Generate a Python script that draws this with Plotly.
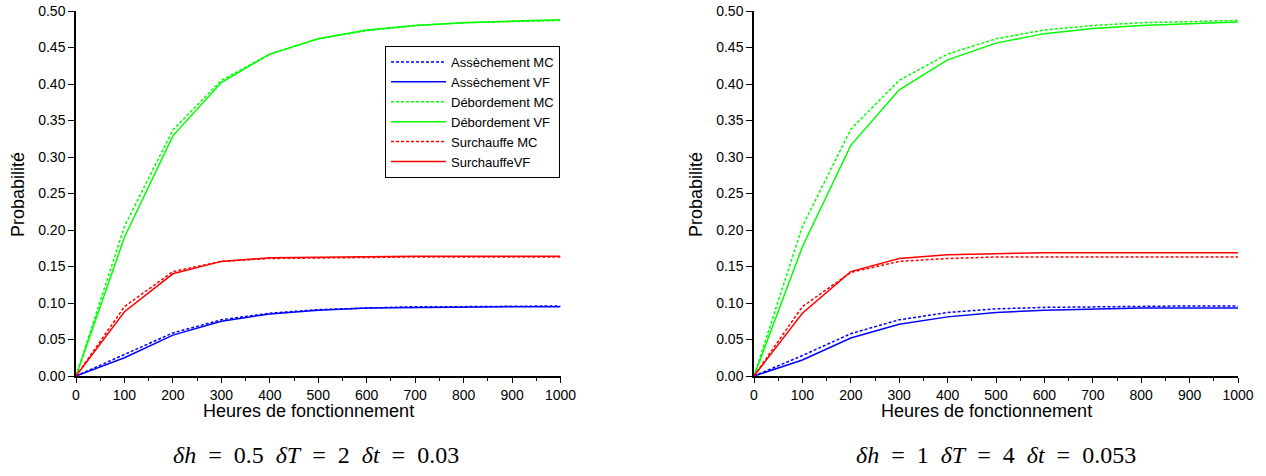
import plotly.graph_objects as go

hours = [0, 100, 200, 300, 400, 500, 600, 700, 800, 900, 1000]

# Left panel: dh=0.5 dT=2 dt=0.03
left_assech_mc = [0, 0.029, 0.059, 0.077, 0.086, 0.091, 0.093, 0.095, 0.095, 0.096, 0.096]
left_assech_vf = [0, 0.025, 0.056, 0.075, 0.085, 0.090, 0.093, 0.094, 0.0945, 0.095, 0.095]
left_debord_mc = [0, 0.205, 0.337, 0.405, 0.441, 0.462, 0.473, 0.480, 0.484, 0.486, 0.487]
left_debord_vf = [0, 0.190, 0.329, 0.402, 0.441, 0.462, 0.474, 0.480, 0.484, 0.486, 0.488]
left_surch_mc = [0, 0.095, 0.143, 0.157, 0.161, 0.162, 0.163, 0.163, 0.163, 0.163, 0.163]
left_surch_vf = [0, 0.088, 0.140, 0.157, 0.162, 0.163, 0.164, 0.164, 0.164, 0.164, 0.164]

# Right panel: dh=1 dT=4 dt=0.053
right_assech_mc = [0, 0.028, 0.058, 0.077, 0.087, 0.092, 0.094, 0.095, 0.095, 0.096, 0.096]
right_assech_vf = [0, 0.022, 0.052, 0.071, 0.081, 0.087, 0.090, 0.092, 0.093, 0.093, 0.093]
right_debord_mc = [0, 0.205, 0.338, 0.405, 0.441, 0.462, 0.474, 0.480, 0.484, 0.486, 0.487]
right_debord_vf = [0, 0.177, 0.316, 0.392, 0.433, 0.456, 0.469, 0.476, 0.480, 0.483, 0.485]
right_surch_mc = [0, 0.095, 0.142, 0.157, 0.161, 0.163, 0.163, 0.163, 0.163, 0.163, 0.163]
right_surch_vf = [0, 0.086, 0.143, 0.161, 0.166, 0.168, 0.169, 0.169, 0.169, 0.169, 0.169]

names = ["Assèchement MC", "Assèchement VF", "Débordement MC", "Débordement VF",
         "Surchauffe MC", "SurchauffeVF"]
colors = ["#0000ff", "#0000ff", "#00ff00", "#00ff00", "#ff0000", "#ff0000"]
dashes = ["3px,2px", "solid", "3px,2px", "solid", "3px,2px", "solid"]

left_series = [left_assech_mc, left_assech_vf, left_debord_mc, left_debord_vf,
               left_surch_mc, left_surch_vf]
right_series = [right_assech_mc, right_assech_vf, right_debord_mc, right_debord_vf,
                right_surch_mc, right_surch_vf]

x_title = "Heures de fonctionnement"
y_title = "Probabilité"
sp = "\u2002"
captions = [f"<i>δh</i>{sp}={sp}0.5{sp}<i>δT</i>{sp}={sp}2{sp}<i>δt</i>{sp}={sp}0.03",
            f"<i>δh</i>{sp}={sp}1{sp}<i>δT</i>{sp}={sp}4{sp}<i>δt</i>{sp}={sp}0.053"]

W, H = 1266, 476

def px_x(x):
    return x / W

def px_y(y):
    return 1 - y / H

fig = go.Figure()

for i in range(6):
    fig.add_trace(go.Scatter(x=hours, y=left_series[i], mode="lines", name=names[i],
                             line=dict(color=colors[i], width=1.5, dash=dashes[i]),
                             xaxis="x", yaxis="y", showlegend=True))
for i in range(6):
    fig.add_trace(go.Scatter(x=hours, y=right_series[i], mode="lines", name=names[i],
                             line=dict(color=colors[i], width=1.5, dash=dashes[i]),
                             xaxis="x2", yaxis="y2", showlegend=False))

ydom = [px_y(376), px_y(11)]
sans = "Liberation Sans, Arial, sans-serif"
axis_font = dict(family=sans, size=14, color="black")
title_font = dict(family=sans, size=18, color="black")
cap_font = dict(family="Liberation Serif, DejaVu Serif, serif", size=24, color="black")

def xaxis(domain, anchor):
    return dict(domain=domain, anchor=anchor, range=[0, 1000], dtick=100, tick0=0,
                showgrid=False, zeroline=False, showline=True, linecolor="black",
                linewidth=1.5, ticks="outside", ticklen=5, tickwidth=1.2, tickcolor="black",
                minor=dict(dtick=50, ticks="outside", ticklen=3, tickwidth=1.2,
                           tickcolor="black", showgrid=False),
                tickfont=axis_font, automargin=False)

def yaxis(anchor):
    return dict(domain=ydom, anchor=anchor, range=[0, 0.5], dtick=0.05, tick0=0,
                tickformat=".2f", showgrid=False, zeroline=False, showline=True,
                linecolor="black", linewidth=1.5, ticks="outside", ticklen=6,
                tickwidth=1.2, tickcolor="black", tickfont=axis_font, automargin=False,
                ticklabeloverflow="allow")

def ann(text, x, y, font, angle=0):
    return dict(text=text, x=px_x(x), y=px_y(y), xref="paper", yref="paper",
                showarrow=False, xanchor="center", yanchor="middle", font=font,
                textangle=angle)

fig.update_layout(
    width=W, height=H,
    margin=dict(l=0, r=0, t=0, b=0, autoexpand=False),
    paper_bgcolor="white", plot_bgcolor="white",
    xaxis=xaxis([px_x(76), px_x(560.5)], "y"),
    yaxis=yaxis("x"),
    xaxis2=xaxis([px_x(754), px_x(1238)], "y2"),
    yaxis2=yaxis("x2"),
    legend=dict(x=px_x(560), y=px_y(46), xanchor="right", yanchor="top",
                bordercolor="black", borderwidth=1, bgcolor="white",
                font=dict(family=sans, size=13, color="black"),
                tracegroupgap=0, itemwidth=55),
    annotations=[
        ann(x_title, 308, 411, title_font),
        ann(x_title, 986, 411, title_font),
        ann(y_title, 18, 195, title_font, -90),
        ann(y_title, 696, 195, title_font, -90),
        ann(captions[0], 316, 455, cap_font),
        ann(captions[1], 996, 455, cap_font),
    ],
)

fig.write_html("out.html", config={"displayModeBar": False},
               post_script="document.body.style.margin='0';document.body.style.overflow='hidden';")
